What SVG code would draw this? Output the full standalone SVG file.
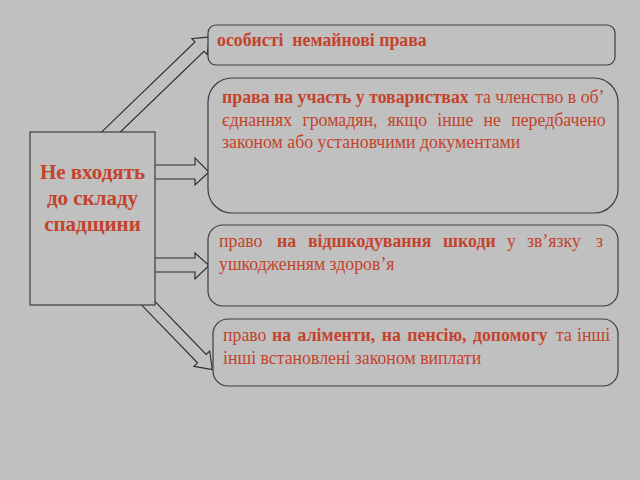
<svg xmlns="http://www.w3.org/2000/svg" width="640" height="480" viewBox="0 0 640 480">
<style>
.bg{fill:#c0c0c0}
.box{fill:#c0c0c0;stroke:#3c3c3c;stroke-width:1.2}
.arr{fill:#c0c0c0;stroke:#2a2a2a;stroke-width:1.1;stroke-linejoin:miter}
text{font-family:"Liberation Serif","Times New Roman",serif;fill:#c4432c;font-size:17.8px}
.b{font-weight:bold}
.main{font-size:21px;font-weight:bold;text-anchor:middle}
</style>
<rect class="bg" x="0" y="0" width="640" height="480"/>
<g id="connectors">
  <polygon class="arr" transform="translate(111,132) rotate(-44)" points="-12,-6.5 123,-6.5 123,-11 137,0 123,11 123,6.5 -12,6.5"/>
  <polygon class="arr" points="150,165 195,165 195,158 209,172 195,185 195,179 150,179"/>
  <polygon class="arr" points="150,258 195,258 195,253 209,265.5 195,279 195,272 150,272"/>
  <polygon class="arr" transform="translate(149,304) rotate(46)" points="-12,-6 76,-6 76,-11 91,0 76,11 76,6 -12,6"/>
</g>
<g id="main">
  <rect class="box" x="30" y="132" width="125" height="173"/>
  <text class="main" x="92.5" y="179">Не входять</text>
  <text class="main" x="92.5" y="205">до складу</text>
  <text class="main" x="92.5" y="231">спадщини</text>
</g>
<g id="n1">
  <rect class="box" x="208" y="25" width="407" height="40" rx="8"/>
  <text class="b" x="217" y="46" xml:space="preserve">особисті  немайнові права</text>
</g>
<g id="n2">
  <rect class="box" x="208" y="78" width="410" height="135" rx="24"/>
  <text y="103"><tspan class="b" x="222">права на участь у товариствах</tspan><tspan x="475">та членство в об’</tspan></text>
  <text x="222" y="126" word-spacing="5.8">єднаннях громадян, якщо інше не передбачено</text>
  <text y="148" x="222">законом або установчими документами</text>
</g>
<g id="n3">
  <rect class="box" x="208" y="225" width="410" height="81" rx="15"/>
  <text y="247"><tspan x="219">право</tspan><tspan class="b" x="277">на</tspan><tspan class="b" x="308">відшкодування</tspan><tspan class="b" x="443">шкоди</tspan><tspan x="507">у</tspan><tspan x="527">зв’язку</tspan><tspan x="596">з</tspan></text>
  <text x="219" y="270">ушкодженням здоров’я</text>
</g>
<g id="n4">
  <rect class="box" x="213" y="319" width="405" height="67" rx="15"/>
  <text y="341"><tspan x="223">право</tspan><tspan class="b" x="272" word-spacing="2">на аліменти, на пенсію, допомогу</tspan><tspan x="556">та</tspan><tspan x="577">інші</tspan></text>
  <text x="223" y="364">інші встановлені законом виплати</text>
</g>
</svg>
